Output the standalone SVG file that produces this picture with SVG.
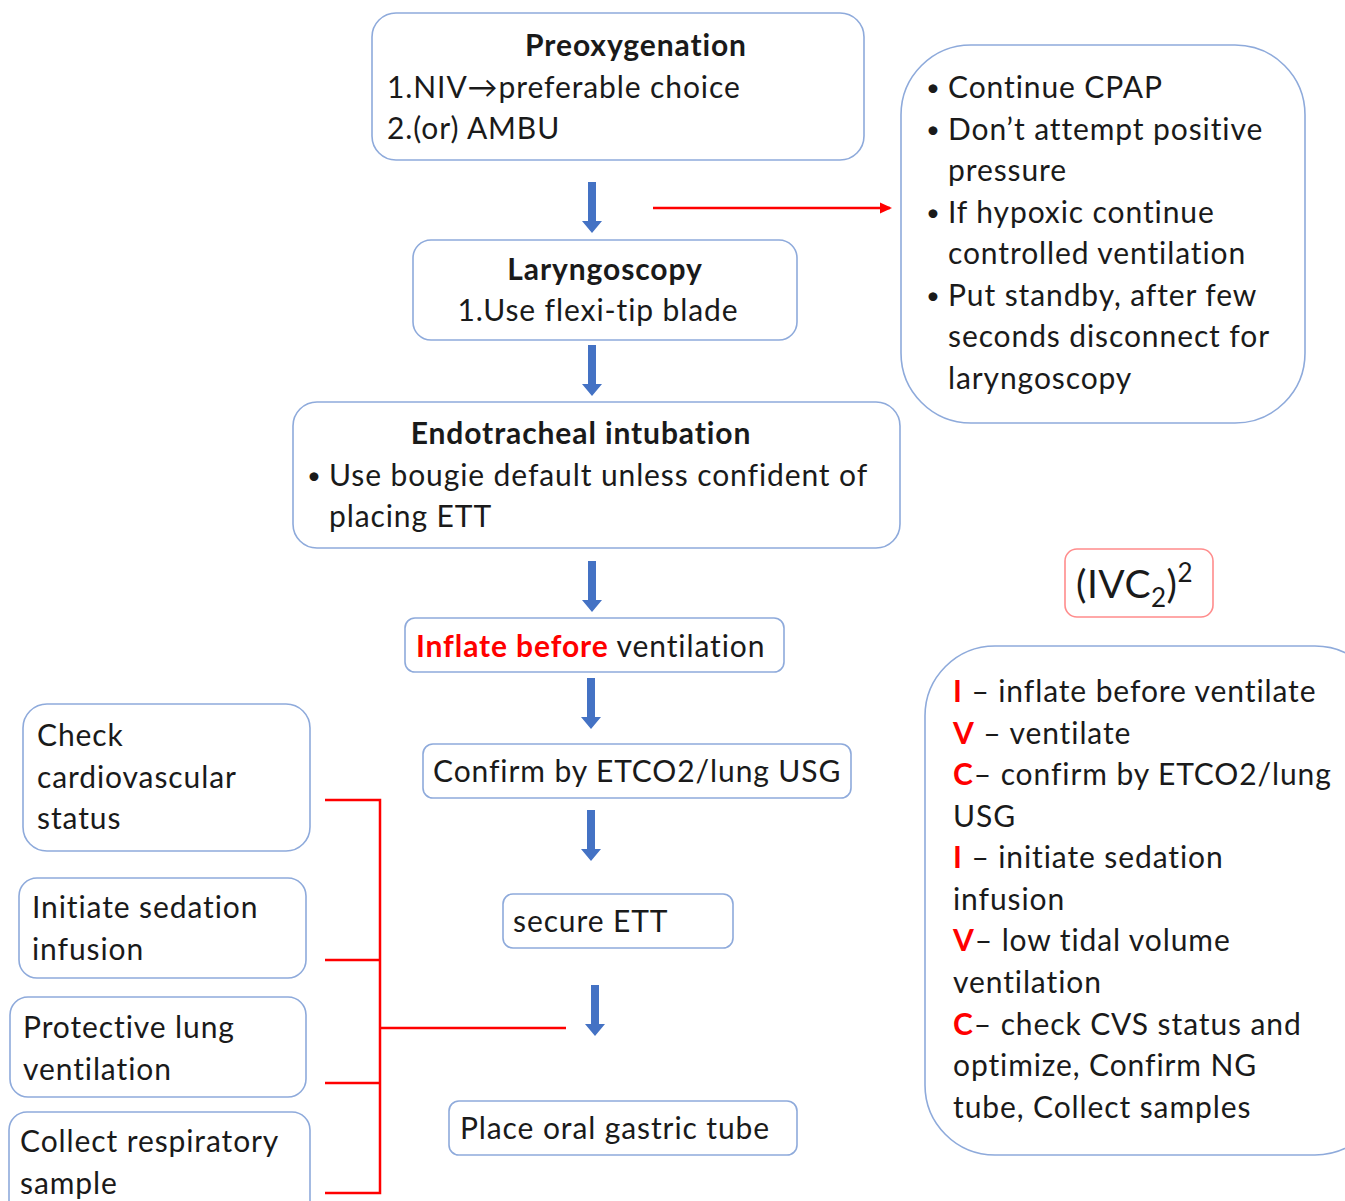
<svg xmlns="http://www.w3.org/2000/svg" xmlns:xlink="http://www.w3.org/1999/xlink" width="1345" height="1201" viewBox="0 0 1345 1201">
<style>
text{font-family:Lato,"Open Sans","DejaVu Sans",sans-serif;font-size:30px;letter-spacing:0.9px;fill:#1a1a1a}
.b{font-weight:bold}
.r{fill:#ff0000;font-weight:bold}
.u{font-size:24px}
.box{fill:#fff;stroke:#8eaadb;stroke-width:1.6}
.rl{stroke:#ff0000;stroke-width:2.5;fill:none}
</style>
<defs>
<path id="ba" d="M-4,0 H4 V39 H10 L0,51 L-10,39 H-4 Z" fill="#4472c4"/>
<marker id="ra" markerWidth="12" markerHeight="12" refX="10" refY="6" orient="auto" markerUnits="userSpaceOnUse"><path d="M0,0.5 L12,6 L0,11.5 Z" fill="#ff0000"/></marker>
</defs>
<rect width="1345" height="1201" fill="#fff"/>
<g id="connectors">
<use xlink:href="#ba" x="592" y="182"/>
<use xlink:href="#ba" x="592" y="345"/>
<use xlink:href="#ba" x="592" y="561"/>
<use xlink:href="#ba" x="591" y="678"/>
<use xlink:href="#ba" x="591" y="810"/>
<use xlink:href="#ba" x="595" y="985"/>
<line class="rl" x1="653" y1="208" x2="890" y2="208" stroke-width="3" marker-end="url(#ra)"/>
<path class="rl" d="M325,800 H380 V1193 H325 M325,960 H380 M325,1083 H380 M380,1028 H566"/>
</g>
<g id="preoxygenation">
<rect class="box" x="372" y="13" width="492" height="147" rx="24"/>
<text class="b" x="636" y="56" text-anchor="middle">Preoxygenation</text>
<text x="387" y="98">1.NIV→preferable choice</text>
<text x="387" y="139">2.(or) AMBU</text>
</g>
<g id="cpap-notes">
<rect class="box" x="901" y="45" width="404" height="378" rx="70"/>
<text class="u" x="926" y="96">•</text><text x="948" y="98">Continue CPAP</text>
<text class="u" x="926" y="138">•</text><text x="948" y="140">Don’t attempt positive</text>
<text x="948" y="181">pressure</text>
<text class="u" x="926" y="221">•</text><text x="948" y="223">If hypoxic continue</text>
<text x="948" y="264">controlled ventilation</text>
<text class="u" x="926" y="304">•</text><text x="948" y="306">Put standby, after few</text>
<text x="948" y="347">seconds disconnect for</text>
<text x="948" y="389">laryngoscopy</text>
</g>
<g id="laryngoscopy">
<rect class="box" x="413" y="240" width="384" height="100" rx="18"/>
<text class="b" x="605" y="280" text-anchor="middle">Laryngoscopy</text>
<text x="598" y="321" text-anchor="middle">1.Use flexi-tip blade</text>
</g>
<g id="intubation">
<rect class="box" x="293" y="402" width="607" height="146" rx="24"/>
<text class="b" x="581" y="444" text-anchor="middle">Endotracheal intubation</text>
<text class="u" x="307" y="484">•</text><text x="329" y="486">Use bougie default unless confident of</text>
<text x="329" y="527">placing ETT</text>
</g>
<g id="inflate">
<rect class="box" x="405" y="618" width="379" height="54" rx="10"/>
<text x="416" y="657"><tspan class="r">Inflate before</tspan> ventilation</text>
</g>
<g id="confirm">
<rect class="box" x="423" y="744" width="428" height="54" rx="10"/>
<text x="433" y="782">Confirm by ETCO2/lung USG</text>
</g>
<g id="secure">
<rect class="box" x="503" y="894" width="230" height="54" rx="10"/>
<text x="513" y="932">secure ETT</text>
</g>
<g id="gastric">
<rect class="box" x="449" y="1101" width="348" height="54" rx="10"/>
<text x="460" y="1139">Place oral gastric tube</text>
</g>
<g id="ivc-title">
<rect x="1065" y="549" width="148" height="68" rx="12" fill="#fff" stroke="#ff8c8c" stroke-width="1.6"/>
<text x="1076" y="598" style="font-size:39px;letter-spacing:0.5px">(IVC<tspan dy="9" style="font-size:26px">2</tspan><tspan dy="-9">)</tspan><tspan dy="-16" style="font-size:26px">2</tspan></text>
</g>
<g id="ivc-mnemonic">
<rect class="box" x="925" y="646" width="460" height="509" rx="70"/>
<text x="953" y="702"><tspan class="r">I</tspan> – inflate before ventilate</text>
<text x="953" y="744"><tspan class="r">V</tspan> – ventilate</text>
<text x="953" y="785"><tspan class="r">C</tspan>– confirm by ETCO2/lung</text>
<text x="953" y="827">USG</text>
<text x="953" y="868"><tspan class="r">I</tspan> – initiate sedation</text>
<text x="953" y="910">infusion</text>
<text x="953" y="951"><tspan class="r">V</tspan>– low tidal volume</text>
<text x="953" y="993">ventilation</text>
<text x="953" y="1035"><tspan class="r">C</tspan>– check CVS status and</text>
<text x="953" y="1076">optimize, Confirm NG</text>
<text x="953" y="1118">tube, Collect samples</text>
</g>
<g id="check-cvs">
<rect class="box" x="23" y="704" width="287" height="147" rx="24"/>
<text x="37" y="746">Check</text>
<text x="37" y="788">cardiovascular</text>
<text x="37" y="829">status</text>
</g>
<g id="sedation">
<rect class="box" x="19" y="878" width="287" height="100" rx="18"/>
<text x="32" y="918">Initiate sedation</text>
<text x="32" y="960">infusion</text>
</g>
<g id="protective">
<rect class="box" x="10" y="997" width="296" height="100" rx="18"/>
<text x="23" y="1038">Protective lung</text>
<text x="23" y="1080">ventilation</text>
</g>
<g id="collect">
<rect class="box" x="9" y="1112" width="301" height="110" rx="18"/>
<text x="20" y="1152">Collect respiratory</text>
<text x="20" y="1194">sample</text>
</g>
</svg>
